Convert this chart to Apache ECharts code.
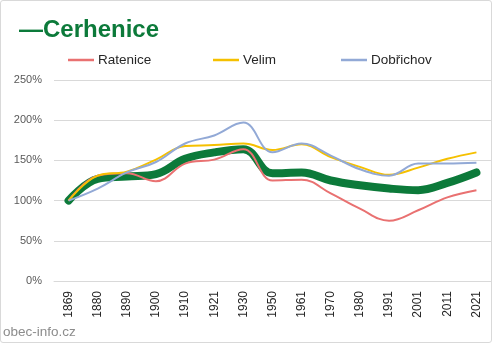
<!DOCTYPE html>
<html><head><meta charset="utf-8">
<script src="https://cdn.jsdelivr.net/npm/echarts@6/dist/echarts.min.js"></script>
<style>html,body{margin:0;padding:0;background:#fff}
#c{width:490px;height:341px;border:1px solid #d9d9d9;border-radius:3px}</style>
</head><body><div id="c"></div>
<script>
const years = ['1869','1880','1890','1900','1910','1921','1930','1950','1961','1970','1980','1991','2001','2011','2021'];
const cerhenice = [100,127,130,133,152,160,164,134,135,125,119,115,113,122,135];
const ratenice = [100,131,134,124,146,151,164,125,126,109,90,75,88,104,113];
const velim = [100,131,136,151,168,169,171,163,170,154,142,132,141,152,160];
const dobrichov = [100,115,135,148,171,181,197,160,171,156,139,131,146,146,147];
const yTicks = [0,50,100,150,200,250];

const chart = echarts.init(document.getElementById('c'));
const font = 'Liberation Sans, Arial, sans-serif';
const mkLegend = (name, left) => ({
  data:[name], left:left, top:52, padding:0, icon:'rect', itemWidth:26, itemHeight:2.5, itemGap:4,
  textStyle:{fontFamily:font,fontSize:13.5,color:'#262626',padding:[0,0,0,-1]}, selectedMode:false
});
chart.setOption({
  animation:false,
  title:{text:'—Cerhenice', left:13, top:12,
    textStyle:{fontFamily:font,fontSize:24,fontWeight:'bold',color:'#0c7a3a'}},
  graphic:[{type:'text', left:2, top:324,
    style:{text:'obec-info.cz', fontFamily:font, fontSize:13.5, fill:'#8c8c8c'}}],
  legend:[mkLegend('Ratenice',67), mkLegend('Velim',212), mkLegend('Dobřichov',340)],
  grid:{left:53, right:-3, top:79, bottom:61},
  xAxis:{type:'category', data:years, boundaryGap:true,
    axisLine:{lineStyle:{color:'#d9d9d9'}},
    axisTick:{lineStyle:{color:'#d9d9d9'}, length:6},
    axisLabel:{rotate:90, fontFamily:font, fontSize:12, color:'#262626', margin:10}},
  yAxis:{type:'value', min:0, max:250, interval:50,
    axisLine:{show:false}, axisTick:{show:false},
    splitLine:{lineStyle:{color:'#d9d9d9'}},
    axisLabel:{formatter:v=>yTicks.includes(v)?v+'%':'', fontFamily:font, fontSize:11, color:'#595959', margin:12}},
  series:[
    {name:'Ratenice', type:'line', data:ratenice, smooth:0.4, symbol:'none', lineStyle:{width:2,color:'#e97171'}, itemStyle:{color:'#e97171'}, z:3},
    {name:'Velim', type:'line', data:velim, smooth:0.4, symbol:'none', lineStyle:{width:2,color:'#f5c000'}, itemStyle:{color:'#f5c000'}, z:3},
    {name:'Dobřichov', type:'line', data:dobrichov, smooth:0.4, symbol:'none', lineStyle:{width:2,color:'#92a9d6'}, itemStyle:{color:'#92a9d6'}, z:3},
    {name:'Cerhenice', type:'line', data:cerhenice, smooth:0.4, symbol:'none', lineStyle:{width:8,color:'#0c7a3a',cap:'round'}, itemStyle:{color:'#0c7a3a'}, z:2}
  ]
});
</script></body></html>
